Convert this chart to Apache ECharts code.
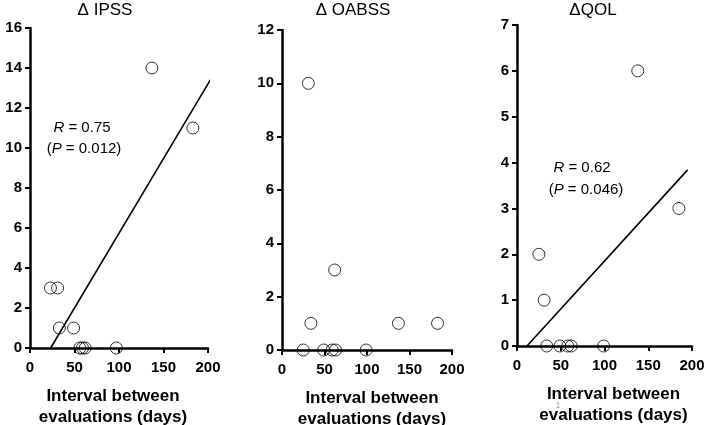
<!DOCTYPE html>
<html><head><meta charset="utf-8">
<script src="https://cdn.jsdelivr.net/npm/echarts@6/dist/echarts.min.js"></script>
<style>html,body{margin:0;padding:0;background:#fff}#c{width:709px;height:425px}</style>
</head><body><div id="c"></div>
<script>
// Data
const titles = ['\u0394 IPSS', '\u0394 OABSS', '\u0394QOL'];
const xTitle = 'Interval between\nevaluations (days)';
const ipssX = [137, 183, 23, 31, 33, 49, 56, 59, 62, 97];
const ipssY = [14, 11, 3, 3, 1, 1, 0, 0, 0, 0];
const oabssX = [31, 62, 34, 137, 183, 25, 49, 59, 63, 99];
const oabssY = [10, 3, 1, 1, 1, 0, 0, 0, 0, 0];
const qolX = [138, 185, 25, 31, 34, 49, 58, 62, 99];
const qolY = [6, 3, 2, 1, 0, 0, 0, 0, 0];
const ipssFitX = [23.2, 208.6];
const ipssFitY = [0, 13.85];
const qolFitX = [11.4, 195];
const qolFitY = [0, 3.84];
const yMax = [16, 12, 7];
const yStep = [2, 2, 1];
const xTicks = [0, 50, 100, 150, 200];
const stats = [['0.75', '0.012'], null, ['0.62', '0.046']];

const zip = (a, b) => a.map((v, i) => [v, b[i]]);
const font = 'Liberation Sans, Arial, sans-serif';

const grids = [
  {left: 30, top: 28, width: 178, height: 320, containLabel: false, outerBoundsMode: 'none'},
  {left: 282, top: 30, width: 170, height: 320, containLabel: false, outerBoundsMode: 'none'},
  {left: 517, top: 25, width: 175, height: 321, containLabel: false, outerBoundsMode: 'none'}
];
const namePad = [[0, 12, 0, 0], [0, 0, 0, 10], [0, 0, 0, 18]];

const xAxes = grids.map((g, i) => ({
  gridIndex: i, type: 'value', min: xTicks[0], max: xTicks[xTicks.length - 1], interval: 50,
  axisLine: {lineStyle: {color: '#000', width: 2.5}},
  axisTick: {show: true, length: 5, inside: false, lineStyle: {color: '#000', width: 2}},
  axisLabel: {color: '#000', fontWeight: 'bold', fontSize: 15, fontFamily: font, margin: 12},
  splitLine: {show: false},
  name: xTitle, nameLocation: 'middle', nameGap: 38,
  nameTextStyle: {color: '#000', fontWeight: 'bold', fontSize: 17, fontFamily: font, lineHeight: 21, padding: namePad[i]}
}));
const yAxes = grids.map((g, i) => ({
  gridIndex: i, type: 'value', min: 0, max: yMax[i], interval: yStep[i],
  axisLine: {show: true, lineStyle: {color: '#000', width: 2.5}},
  axisTick: {show: true, length: 5, lineStyle: {color: '#000', width: 2}},
  axisLabel: {color: '#000', fontWeight: 'bold', fontSize: 15, fontFamily: font, margin: 8},
  splitLine: {show: false}
}));

const scatterStyle = {color: 'transparent', borderColor: '#000', borderWidth: 1};
const series = [
  {type: 'scatter', xAxisIndex: 0, yAxisIndex: 0, data: zip(ipssX, ipssY), symbolSize: 12, itemStyle: scatterStyle, clip: false},
  {type: 'scatter', xAxisIndex: 1, yAxisIndex: 1, data: zip(oabssX, oabssY), symbolSize: 12, itemStyle: scatterStyle, clip: false},
  {type: 'scatter', xAxisIndex: 2, yAxisIndex: 2, data: zip(qolX, qolY), symbolSize: 12, itemStyle: scatterStyle, clip: false},
  {type: 'line', xAxisIndex: 0, yAxisIndex: 0, data: zip(ipssFitX, ipssFitY), showSymbol: false, lineStyle: {color: '#000', width: 1.6}, clip: false},
  {type: 'line', xAxisIndex: 2, yAxisIndex: 2, data: zip(qolFitX, qolFitY), showSymbol: false, lineStyle: {color: '#000', width: 1.6}, clip: false}
];

const titlePos = [[105, 10], [353, 10], [593, 10]];
const statPos = [[82, 128, 84, 149], null, [582, 168, 586, 190]];
const graphic = [];
titles.forEach((t, i) => graphic.push({type: 'text', x: titlePos[i][0], y: titlePos[i][1],
  style: {text: t, font: '17px ' + font, fill: '#000', align: 'center', verticalAlign: 'middle'}}));
stats.forEach((s, i) => {
  if (!s) return;
  const p = statPos[i];
  graphic.push({type: 'text', x: p[0], y: p[1], style: {text: '{i|R} = ' + s[0], align: 'center', verticalAlign: 'middle',
    font: '15px ' + font, fill: '#000', rich: {i: {fontStyle: 'italic', fontSize: 15, fontFamily: font}}}});
  graphic.push({type: 'text', x: p[2], y: p[3], style: {text: '({i|P} = ' + s[1] + ')', align: 'center', verticalAlign: 'middle',
    font: '15px ' + font, fill: '#000', rich: {i: {fontStyle: 'italic', fontSize: 15, fontFamily: font}}}});
});
graphic.push({type: 'text', x: 558, y: 406, style: {text: '1', font: '9px ' + font, fill: '#aaa', align: 'center', verticalAlign: 'middle'}});

const chart = echarts.init(document.getElementById('c'), null, {renderer: 'canvas'});
chart.setOption({
  animation: false, backgroundColor: '#fff',
  grid: grids, xAxis: xAxes, yAxis: yAxes, series: series, graphic: graphic
});
</script></body></html>
